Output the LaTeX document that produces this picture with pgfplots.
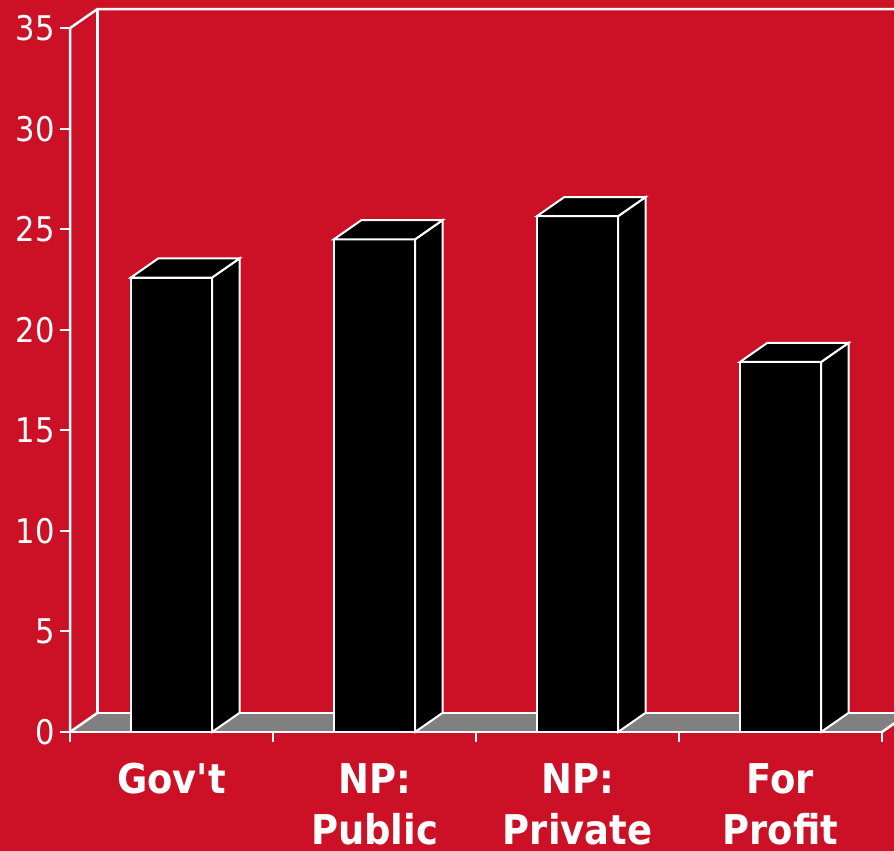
\documentclass[border=0pt]{standalone}
\usepackage{fontspec}
\setmainfont{DejaVu Sans Condensed}
\usepackage{pgfplots}
\pgfplotsset{compat=1.18}
\definecolor{bgred}{RGB}{204,16,38}
\definecolor{floorgray}{RGB}{128,128,128}
\begin{document}
\begin{tikzpicture}[x=1pt,y=1pt]
\fill[bgred] (0,0) rectangle (894,851);
\begin{axis}[
  anchor=origin, at={(70pt,119pt)},
  x=203pt, y=20.11pt,
  xmin=0, xmax=4.2, ymin=0, ymax=36.5,
  clip=false,
  axis x line*=bottom, axis y line*=left,
  axis line style={draw=none},
  tick align=outside,
  major tick length=10pt,
  tick style={white, line width=2pt},
  ytick={0,5,...,35},
  /pgf/number format/assume math mode=true,
  yticklabel style={text=white, font=\fontsize{34}{34}\selectfont, inner sep=0pt, anchor=east, xshift=-5pt},
  xtick={0,1,2,3,4},
  xticklabels={,,,,},
  extra x ticks={0.5,1.5,2.5,3.5},
  extra x tick labels={Gov\textquotesingle t,{NP:\\Public},{NP:\\Private},{For\\Profit}},
  extra x tick style={major tick length=0pt,
    xticklabel style={text=white, align=center, anchor=north, inner sep=0pt,
      font=\bfseries\fontsize{41}{51}\selectfont, yshift=-31pt}},
]
% floor
\addplot[fill=floorgray, draw=none] coordinates {(0,0) (4,0) (4.135,0.95) (0.135,0.95)} -- cycle;
\addplot[white, line width=2.5pt] coordinates {(0.135,0.95) (4.3,0.95)};
\addplot[white, line width=2.5pt] coordinates {(0,0) (0.135,0.95)};
\addplot[white, line width=2.5pt] coordinates {(4,0) (4.135,0.95)};
\addplot[white, line width=2.5pt] coordinates {(0,0) (4,0)};
% walls
\addplot[white, line width=2.5pt] coordinates {(0,0) (0,35) (0.135,35.95) (4.3,35.95)};
\addplot[white, line width=2.5pt] coordinates {(0.135,0.95) (0.135,35.95)};
% bars: front faces
\addplot[ybar, bar width=0.4, fill=black, draw=white, line width=2pt] coordinates {(0.5,22.6) (1.5,24.5) (2.5,25.65) (3.5,18.4)};
% side faces
\addplot[fill=black, draw=white, line width=2pt] coordinates {(0.7,0) (0.835,0.95) (0.835,23.55) (0.7,22.6)} -- cycle;
\addplot[fill=black, draw=white, line width=2pt] coordinates {(1.7,0) (1.835,0.95) (1.835,25.45) (1.7,24.5)} -- cycle;
\addplot[fill=black, draw=white, line width=2pt] coordinates {(2.7,0) (2.835,0.95) (2.835,26.6) (2.7,25.65)} -- cycle;
\addplot[fill=black, draw=white, line width=2pt] coordinates {(3.7,0) (3.835,0.95) (3.835,19.35) (3.7,18.4)} -- cycle;
% top faces
\addplot[fill=black, draw=white, line width=2pt] coordinates {(0.3,22.6) (0.7,22.6) (0.835,23.55) (0.435,23.55)} -- cycle;
\addplot[fill=black, draw=white, line width=2pt] coordinates {(1.3,24.5) (1.7,24.5) (1.835,25.45) (1.435,25.45)} -- cycle;
\addplot[fill=black, draw=white, line width=2pt] coordinates {(2.3,25.65) (2.7,25.65) (2.835,26.6) (2.435,26.6)} -- cycle;
\addplot[fill=black, draw=white, line width=2pt] coordinates {(3.3,18.4) (3.7,18.4) (3.835,19.35) (3.435,19.35)} -- cycle;
\end{axis}
\pgfresetboundingbox
\path[use as bounding box] (0,0) rectangle (894,851);
\end{tikzpicture}
\end{document}
